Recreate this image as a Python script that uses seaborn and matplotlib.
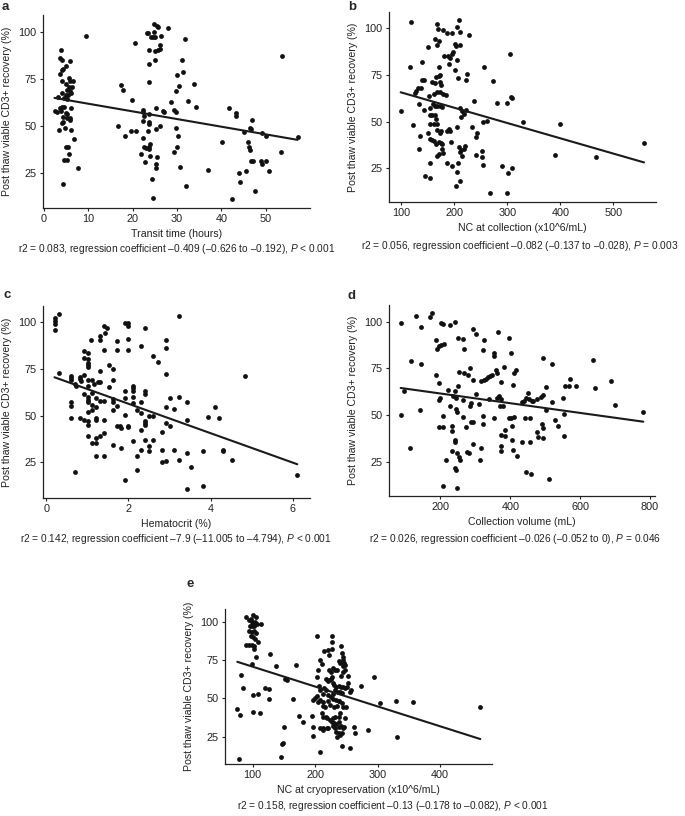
import matplotlib
matplotlib.use("Agg")
import matplotlib.pyplot as plt
import pandas as pd
import seaborn as sns

sns.set_theme(style="ticks")
plt.rcParams["font.family"] = ["Liberation Sans", "DejaVu Sans"]
plt.rcParams["mathtext.fontset"] = "custom"
plt.rcParams["mathtext.rm"] = "Liberation Sans"
plt.rcParams["mathtext.it"] = "Liberation Sans:italic"

W, H = 685, 816
INK = "#222222"
Y_LABEL = "Post thaw viable CD3+ recovery (%)"
Y_TICKS = [25, 50, 75, 100]

# panel a: transit time (hours) vs recovery (%)
transit_points = [
    (3.9, 90.8), (3.7, 86.5), (4.0, 85.1), (5.8, 84.7), (4.9, 81.9), (4.4, 80.6),
    (4.0, 79.7), (3.7, 77.6), (5.6, 75.6), (4.1, 74.0), (6.0, 74.3), (6.6, 73.8),
    (4.9, 72.5), (5.7, 71.1), (6.3, 71.1), (4.0, 67.5), (5.1, 69.0), (5.8, 68.6),
    (6.1, 67.5), (5.0, 66.3), (5.5, 66.3), (3.1, 65.4), (4.5, 65.0), (5.2, 64.3),
    (4.0, 60.0), (4.5, 60.3), (6.2, 59.4), (2.4, 57.8), (3.0, 57.7), (3.9, 58.2),
    (5.2, 56.4), (4.3, 55.0), (6.0, 54.3), (5.8, 53.2), (4.3, 52.3), (4.1, 51.4),
    (3.3, 48.0), (4.7, 48.7), (6.2, 47.8), (6.7, 43.3), (5.0, 38.8), (5.5, 38.8),
    (5.6, 35.2), (4.6, 31.8), (5.2, 31.8), (7.6, 27.7), (4.3, 19.1), (9.4, 98.2),
    (3.6, 59.5), (4.9, 57.1), (5.2, 54.5),
    (20.6, 94.4), (17.4, 72.0), (17.8, 69.5), (19.9, 64.1), (16.6, 50.1), (18.4, 44.7),
    (19.6, 47.4), (20.8, 47.1), (21.8, 35.2), (22.3, 43.8), (22.3, 58.6), (22.3, 57.7),
    (22.5, 55.5), (22.3, 52.8), (22.5, 39.0), (23.0, 38.5), (23.6, 37.6), (22.9, 30.7),
    (23.2, 99.5), (23.5, 99.5), (23.6, 90.5), (24.9, 104.3), (25.4, 103.6), (25.8, 103.0),
    (24.9, 100.0), (24.6, 97.3), (24.1, 97.3), (26.5, 98.2), (25.0, 97.3), (25.1, 90.0),
    (25.7, 90.8), (26.1, 93.2), (26.1, 91.4), (23.8, 83.3), (25.1, 85.5), (23.8, 73.4),
    (23.6, 56.4), (25.3, 59.6), (23.6, 52.3), (23.6, 51.0), (25.2, 48.3), (23.5, 47.4),
    (26.2, 49.8), (24.0, 40.2), (23.8, 38.8), (24.0, 34.0), (25.5, 33.4), (25.3, 29.8),
    (25.3, 27.7), (24.4, 21.9), (24.5, 11.7), (28.0, 102.2), (26.8, 57.8), (27.1, 57.3),
    (28.6, 62.7), (29.4, 58.6), (29.8, 57.3), (29.8, 68.6), (30.1, 77.0), (30.4, 71.6),
    (31.2, 85.1), (31.4, 78.8), (31.9, 96.4), (29.8, 48.7), (30.2, 44.4), (30.1, 39.0),
    (29.4, 36.1), (30.8, 28.2), (32.1, 17.8), (32.5, 63.2), (33.8, 72.5), (34.2, 60.0),
    (37.1, 26.3), (40.1, 41.7), (41.8, 59.4), (42.5, 10.8), (43.3, 56.8), (43.3, 55.1),
    (43.9, 25.0), (44.2, 20.3), (45.1, 46.9), (45.6, 25.9), (46.1, 41.5), (46.2, 38.8),
    (46.5, 37.0), (46.6, 31.3), (47.1, 31.3), (46.5, 49.2), (46.6, 48.3), (47.0, 53.3),
    (47.6, 15.5), (48.9, 31.3), (49.2, 29.5), (49.1, 46.3), (50.0, 44.9), (50.0, 31.3),
    (50.7, 25.7), (53.4, 36.1), (53.6, 87.3), (57.2, 44.2),
]

# panel b: NC at collection (x10^6/mL) vs recovery (%)
nc_collection_points = [
    (117.6, 103.2), (115.7, 79.3), (98.7, 55.4), (122.7, 48.0), (132.8, 35.5), (134.7, 42.0),
    (132.8, 59.3), (125.8, 65.4), (128.4, 66.4), (132.1, 68.2), (137.2, 68.2), (139.7, 82.0),
    (138.4, 72.5), (142.2, 72.1), (143.5, 56.1), (149.8, 90.0), (144.7, 20.9), (153.6, 19.5),
    (154.8, 27.9), (150.4, 43.6), (153.6, 40.7), (157.3, 40.0), (162.4, 39.6), (153.6, 53.4),
    (158.6, 53.4), (163.6, 53.4), (154.8, 48.6), (161.1, 48.6), (167.4, 48.6), (166.2, 51.6),
    (152.3, 63.6), (161.1, 64.6), (168.0, 65.9), (172.4, 65.9), (157.3, 71.1), (163.0, 70.7),
    (154.8, 57.5), (159.8, 59.3), (163.6, 58.2), (168.0, 58.2), (172.4, 58.6), (176.2, 57.9),
    (164.3, 94.1), (168.0, 102.5), (169.3, 99.5), (171.2, 93.0), (168.0, 90.9), (178.7, 98.9),
    (186.9, 97.5), (195.1, 97.5), (205.2, 100.7), (209.0, 104.3), (211.5, 98.2), (227.3, 96.4),
    (166.2, 73.9), (170.6, 74.3), (173.7, 74.8), (170.6, 79.3), (172.4, 71.2), (175.6, 69.5),
    (178.7, 65.0), (183.7, 64.1), (180.0, 85.0), (188.2, 85.4), (191.3, 84.3), (190.0, 81.1),
    (195.1, 86.4), (197.6, 87.3), (200.8, 91.4), (202.7, 90.5), (210.3, 90.9), (202.1, 77.5),
    (205.2, 83.2), (207.1, 73.2), (224.7, 75.4), (221.6, 72.5), (168.0, 45.4), (172.4, 43.6),
    (175.6, 44.8), (170.6, 39.1), (166.2, 38.2), (174.3, 38.6), (177.4, 37.9), (177.4, 35.5),
    (178.7, 32.9), (170.6, 32.3), (168.0, 31.6), (190.0, 46.2), (186.9, 45.0), (192.0, 45.0),
    (193.2, 39.1), (186.9, 27.9), (196.3, 26.1), (204.6, 22.7), (207.1, 27.9), (209.0, 36.4),
    (210.3, 33.7), (205.9, 47.1), (210.3, 18.0), (213.4, 34.6), (217.8, 35.5), (215.3, 31.6),
    (219.7, 37.0), (210.3, 57.0), (214.0, 55.5), (219.1, 54.3), (222.9, 56.1), (213.4, 52.5),
    (234.2, 46.8), (240.5, 41.8), (243.0, 44.1), (238.0, 60.9), (241.8, 32.0), (253.1, 34.3),
    (253.1, 31.1), (254.4, 26.6), (256.2, 79.3), (261.3, 50.4), (253.7, 49.5), (273.9, 72.0),
    (281.4, 60.2), (299.7, 60.0), (304.8, 86.4), (309.2, 62.7), (306.6, 62.9), (302.2, 22.1),
    (307.9, 25.2), (300.3, 11.8), (290.2, 26.1), (267.6, 11.4), (329.3, 49.8), (389.8, 32.1),
    (398.6, 48.9), (467.3, 31.1), (558.0, 38.7), (203.9, 15.5),
]

# panel c: hematocrit (%) vs recovery (%)
hematocrit_points = [
    (0.20, 102.5), (0.20, 100.7), (0.20, 98.9), (0.22, 95.9), (0.32, 104.3), (0.31, 73.0),
    (0.60, 71.2), (0.60, 70.0), (0.60, 69.1), (0.60, 57.5), (0.60, 55.2), (0.60, 48.6),
    (0.71, 66.8), (0.72, 65.9), (0.71, 19.5), (0.81, 70.9), (0.81, 69.5), (0.84, 68.6),
    (0.81, 48.6), (0.91, 84.6), (0.91, 80.7), (0.91, 71.8), (0.92, 61.6), (0.92, 47.7),
    (1.01, 83.8), (1.01, 80.2), (1.01, 78.4), (1.01, 77.1), (1.01, 75.9), (1.01, 69.1),
    (1.01, 65.9), (1.01, 59.8), (1.01, 58.4), (1.01, 57.1), (1.01, 51.8), (1.01, 46.8),
    (1.01, 45.0), (1.01, 38.8), (1.09, 90.5), (1.11, 69.1), (1.11, 62.3), (1.11, 55.7),
    (1.11, 53.0), (1.11, 35.2), (1.17, 66.8), (1.21, 59.6), (1.21, 54.5), (1.21, 48.6),
    (1.21, 47.7), (1.21, 37.9), (1.21, 35.2), (1.22, 28.0), (1.25, 68.2), (1.30, 68.2),
    (1.30, 74.1), (1.31, 90.5), (1.31, 92.7), (1.31, 58.0), (1.31, 39.1), (1.41, 98.0),
    (1.48, 97.1), (1.44, 94.5), (1.41, 85.2), (1.41, 58.0), (1.41, 47.7), (1.41, 40.5),
    (1.41, 28.0), (1.52, 77.1), (1.52, 65.5), (1.62, 74.8), (1.62, 69.1), (1.62, 58.8),
    (1.62, 57.1), (1.62, 53.0), (1.62, 34.3), (1.72, 90.0), (1.72, 85.2), (1.72, 55.2),
    (1.72, 44.6), (1.80, 44.1), (1.82, 43.2), (1.82, 32.5), (1.91, 99.8), (1.91, 63.2),
    (1.91, 59.3), (1.91, 50.4), (1.91, 15.5), (2.00, 99.5), (2.00, 98.2), (2.00, 91.1),
    (2.00, 85.2), (2.00, 44.5), (2.00, 43.6), (2.11, 65.9), (2.11, 64.6), (2.11, 62.9),
    (2.11, 60.2), (2.11, 56.6), (2.11, 36.1), (2.21, 53.0), (2.21, 28.0), (2.21, 20.5),
    (2.30, 87.3), (2.30, 57.1), (2.30, 51.2), (2.30, 42.0), (2.30, 31.6), (2.41, 97.1),
    (2.41, 62.9), (2.41, 61.6), (2.41, 46.8), (2.41, 45.9), (2.41, 45.0), (2.41, 37.0),
    (2.51, 49.8), (2.51, 33.4), (2.51, 30.7), (2.61, 82.0), (2.61, 50.0), (2.61, 36.6),
    (2.71, 78.9), (2.81, 41.4), (2.81, 31.6), (2.81, 25.0), (2.91, 90.5), (2.91, 86.4),
    (2.91, 72.1), (2.91, 54.8), (2.91, 45.9), (2.91, 25.4), (3.02, 59.3), (3.02, 44.5),
    (3.11, 53.4), (3.11, 31.3), (3.22, 103.2), (3.22, 59.8), (3.22, 25.9), (3.42, 57.1),
    (3.42, 47.7), (3.42, 29.8), (3.42, 10.7), (3.52, 22.1), (3.81, 30.7), (3.81, 12.0),
    (3.93, 49.1), (4.11, 54.8), (4.21, 48.9), (4.31, 31.6), (4.31, 31.2), (4.52, 26.3),
    (4.83, 71.4), (6.11, 17.9),
]

# panel d: collection volume (mL) vs recovery (%)
volume_points = [
    (86.3, 99.1), (86.3, 50.0), (95.9, 62.9), (113.1, 32.1), (115.0, 78.9), (129.3, 103.2),
    (143.6, 97.3), (143.6, 77.1), (140.7, 52.7), (171.3, 102.3), (177.1, 104.5), (188.5, 90.2),
    (191.4, 85.2), (195.2, 87.0), (202.9, 87.5), (209.6, 87.9), (188.5, 71.4), (195.2, 67.0),
    (198.1, 58.9), (196.2, 58.0), (195.2, 43.8), (201.0, 99.5), (207.6, 98.6), (207.7, 49.5),
    (207.7, 43.4), (207.7, 12.0), (216.3, 25.9), (222.0, 63.4), (226.8, 98.2), (228.8, 54.8),
    (233.5, 44.3), (233.5, 41.6), (233.5, 30.9), (236.4, 60.2), (241.2, 100.0), (241.2, 36.6),
    (243.1, 35.4), (241.2, 21.4), (245.0, 20.5), (243.1, 62.9), (246.0, 58.9), (246.0, 53.0),
    (247.9, 51.4), (249.8, 91.1), (249.8, 65.5), (247.9, 29.5), (252.6, 27.7), (257.4, 25.9),
    (247.9, 10.7), (254.5, 73.2), (264.1, 90.5), (264.1, 49.1), (265.1, 58.0), (268.9, 85.2),
    (268.9, 72.7), (273.7, 43.8), (276.5, 30.4), (281.3, 29.5), (280.4, 71.4), (284.2, 75.0),
    (284.2, 55.0), (289.0, 56.3), (289.0, 46.1), (293.8, 46.4), (293.8, 68.8), (293.8, 34.3),
    (294.7, 96.1), (301.4, 61.1), (301.4, 93.2), (311.0, 55.7), (313.8, 25.9), (315.6, 68.4),
    (325.2, 68.8), (331.8, 69.3), (336.6, 70.2), (343.3, 70.9), (348.1, 71.4), (317.5, 32.1),
    (322.3, 84.8), (322.3, 45.0), (322.3, 49.5), (325.2, 90.2), (338.5, 58.6), (352.9, 83.0),
    (352.9, 81.6), (353.8, 48.2), (360.5, 74.1), (362.4, 72.3), (362.4, 58.9), (365.4, 94.3),
    (368.2, 60.2), (372.0, 54.8), (373.0, 67.9), (374.9, 39.3), (374.9, 33.6), (374.9, 30.7),
    (374.9, 58.6), (379.6, 54.8), (382.5, 75.5), (384.4, 38.8), (386.3, 42.0), (396.8, 91.1),
    (401.6, 83.4), (395.9, 48.2), (403.5, 48.6), (410.2, 48.8), (405.4, 44.3), (406.4, 36.6),
    (408.3, 31.3), (408.3, 66.1), (410.2, 72.7), (415.9, 74.1), (420.7, 28.0), (432.2, 35.4),
    (434.1, 57.1), (439.8, 57.5), (444.6, 58.9), (443.6, 48.6), (444.6, 19.6), (458.9, 18.2),
    (451.3, 61.6), (454.1, 58.4), (456.1, 48.2), (456.1, 35.4), (460.8, 57.7), (465.6, 57.7),
    (475.2, 58.4), (477.1, 40.7), (479.9, 38.4), (487.6, 59.8), (492.4, 60.7), (489.5, 45.0),
    (492.4, 42.9), (494.3, 37.5), (492.4, 80.7), (500.9, 65.2), (500.9, 52.7), (511.5, 15.5),
    (518.1, 77.1), (518.1, 56.8), (527.7, 47.3), (537.3, 44.3), (549.7, 59.3), (553.5, 50.4),
    (553.5, 38.9), (556.4, 65.5), (567.8, 65.5), (570.7, 69.3), (587.9, 65.5), (637.6, 79.5),
    (642.3, 64.3), (688.2, 68.2), (699.7, 55.4), (780.9, 51.8),
]

# panel e: NC at cryopreservation (x10^6/mL) vs recovery (%)
nc_cryo_points = [
    (89.3, 103.3), (96.8, 102.2), (101.1, 104.4), (105.3, 103.3), (94.7, 101.1), (98.9, 100.0),
    (101.1, 98.9), (103.2, 100.2), (106.4, 98.9), (112.8, 98.9), (95.7, 97.6), (99.5, 97.2),
    (102.7, 97.6), (94.7, 94.3), (98.9, 93.7), (102.7, 94.3), (104.8, 92.8), (96.8, 90.6),
    (101.1, 89.9), (104.3, 89.1), (88.8, 85.1), (94.7, 84.9), (99.5, 85.1), (102.7, 84.0),
    (108.0, 86.7), (102.1, 82.3), (105.3, 77.0), (98.4, 72.7), (80.8, 65.5), (85.0, 56.7),
    (75.4, 43.1), (79.7, 39.2), (78.1, 10.6), (100.0, 52.3), (108.0, 52.8), (101.1, 41.4),
    (111.7, 40.3), (119.8, 56.7), (126.7, 56.0), (126.2, 49.5), (127.8, 79.0), (136.8, 71.4),
    (152.3, 62.8), (154.5, 62.2), (164.1, 49.5), (168.9, 71.6), (174.2, 38.6), (181.2, 34.8),
    (150.7, 31.6), (149.1, 21.1), (146.9, 20.0), (145.4, 11.9), (195.6, 38.6), (196.2, 31.6),
    (196.2, 25.6), (202.5, 90.6), (207.9, 15.1), (197.2, 49.0), (199.9, 50.6), (202.5, 51.7),
    (205.2, 68.7), (207.9, 74.9), (211.6, 72.7), (202.5, 63.9), (206.8, 58.2), (207.9, 55.6),
    (214.3, 56.7), (217.5, 55.6), (213.2, 53.0), (207.9, 49.0), (212.1, 47.9), (213.2, 45.1),
    (215.9, 44.2), (204.1, 47.9), (210.5, 40.3), (213.2, 38.1), (217.5, 38.1), (207.9, 30.5),
    (213.2, 30.9), (218.5, 30.9), (221.2, 30.5), (214.3, 80.8), (221.2, 81.4), (226.6, 91.0),
    (226.6, 86.7), (227.6, 82.3), (222.3, 78.6), (217.5, 62.6), (222.8, 62.2), (221.2, 61.1),
    (225.0, 62.6), (227.6, 63.9), (222.8, 68.7), (225.5, 67.6), (229.2, 69.8), (231.9, 68.3),
    (234.6, 68.7), (229.2, 60.0), (230.8, 58.9), (233.5, 57.8), (237.8, 58.2), (241.0, 57.8),
    (245.2, 57.4), (247.9, 56.7), (250.6, 57.4), (221.2, 52.3), (225.0, 51.2), (229.2, 53.0),
    (231.9, 55.6), (235.7, 54.5), (239.9, 53.9), (242.6, 53.4), (241.0, 84.0), (242.6, 79.7),
    (244.2, 77.0), (245.2, 75.3), (246.3, 73.1), (247.9, 72.0), (245.2, 70.9), (247.9, 68.7),
    (244.2, 67.0), (241.0, 64.4), (237.3, 74.2), (239.9, 73.5), (228.2, 49.5), (233.5, 49.0),
    (238.8, 48.6), (221.2, 48.0), (223.9, 45.8), (230.3, 44.7), (234.6, 45.1), (237.3, 48.4),
    (239.9, 40.3), (245.2, 44.2), (249.5, 44.2), (242.6, 47.3), (219.6, 37.0), (223.9, 35.9),
    (229.2, 37.0), (231.9, 38.1), (237.3, 38.1), (226.6, 34.8), (230.3, 34.2), (233.5, 33.3),
    (237.3, 34.6), (229.2, 32.0), (231.9, 30.5), (237.3, 31.1), (241.0, 32.0), (244.2, 30.5),
    (246.3, 31.1), (233.5, 28.3), (237.3, 27.2), (239.9, 26.1), (242.6, 27.6), (213.2, 29.4),
    (234.6, 25.0), (273.0, 58.2), (284.2, 29.4), (294.4, 63.9), (302.9, 46.9), (329.6, 48.0),
    (330.7, 24.5), (261.3, 31.1), (263.9, 27.6), (255.9, 53.9), (257.5, 55.2), (252.2, 64.4),
    (251.7, 60.0), (242.6, 18.9), (254.9, 17.3), (247.9, 37.0), (356.3, 47.5), (464.1, 44.2),
]

REGRESSION = {
    "a": (-0.409, 66.0),
    "b": (-0.082, 73.8),
    "c": (-7.9, 72.1),
    "d": (-0.026, 66.7),
    "e": (-0.13, 83.75),
}

# one entry per panel: letter, points, x label, caption, x ticks, x range, y range,
# and the axes box in pixels (left, top, right, bottom)
PANELS = [
    ("a", transit_points, "Transit time (hours)",
     "r2 = 0.083, regression coefficient \u20130.409 (\u20130.626 to \u20130.192), $\\mathit{P}$ < 0.001",
     [0, 10, 20, 30, 40, 50], (-0.2, 60), (6.2, 109.3), (43, 15, 310, 208)),
    ("b", nc_collection_points, "NC at collection (x10^6/mL)",
     "r2 = 0.056, regression coefficient \u20130.082 (\u20130.137 to \u20130.028), $\\mathit{P}$ = 0.003",
     [100, 200, 300, 400, 500], (76.7, 580.6), (6.8, 108.8), (389, 12, 656, 202)),
    ("c", hematocrit_points, "Hematocrit (%)",
     "r2 = 0.142, regression coefficient \u20137.9 (\u201311.005 to \u20134.794), $\\mathit{P}$ < 0.001",
     [0, 2, 4, 6], (-0.08, 6.42), (5.7, 108.8), (43, 306, 310, 498)),
    ("d", volume_points, "Collection volume (mL)",
     "r2 = 0.026, regression coefficient \u20130.026 (\u20130.052 to 0), $\\mathit{P}$ = 0.046",
     [200, 400, 600, 800], (52.9, 814.3), (6.6, 108.9), (389, 305, 655, 496)),
    ("e", nc_cryo_points, "NC at cryopreservation (x10^6/mL)",
     "r2 = 0.158, regression coefficient \u20130.13 (\u20130.178 to \u20130.082), $\\mathit{P}$ < 0.001",
     [100, 200, 300, 400], (55.7, 482.8), (7.1, 108.5), (225, 609, 492, 764)),
]

# where the panel letters and captions sit (pixels)
LETTER_POS = {"a": (2, 10), "b": (348, 10), "c": (3, 298), "d": (348, 299), "e": (187, 587)}
CAPTION_POS = {"a": (177, 249), "b": (520, 246), "c": (176, 539), "d": (515, 539), "e": (393, 806)}


def draw_panel(fig, letter, points, xlabel, caption, xticks, xlim, ylim, box):
    left, top, right, bottom = box
    ax = fig.add_axes([left / W, 1 - bottom / H, (right - left) / W, (bottom - top) / H])
    df = pd.DataFrame(points, columns=["x", "y"])
    sns.scatterplot(data=df, x="x", y="y", ax=ax, s=12, color="#111111", linewidth=0)

    slope, intercept = REGRESSION[letter]
    fit = pd.DataFrame({"x": [df["x"].min(), df["x"].max()]})
    fit["y"] = intercept + slope * fit["x"]
    sns.lineplot(data=fit, x="x", y="y", ax=ax, color="#1a1a1a", linewidth=1.5)

    ax.set_xlim(*xlim)
    ax.set_ylim(*ylim)
    ax.set_xticks(xticks)
    ax.set_yticks(Y_TICKS)
    ax.set_xlabel(xlabel, fontsize=7.6, color=INK, labelpad=3.5)
    ax.set_ylabel(Y_LABEL, fontsize=7.6, color=INK, labelpad=4.5)
    ax.tick_params(labelsize=7.8, length=2.5, width=0.8, pad=2, colors=INK)
    sns.despine(ax=ax)
    for side in ["left", "bottom"]:
        ax.spines[side].set_linewidth(0.9)
        ax.spines[side].set_color(INK)

    lx, ly = LETTER_POS[letter]
    fig.text(lx / W, 1 - ly / H, letter, fontsize=9.5, fontweight="bold", va="baseline", ha="left")
    cx, cy = CAPTION_POS[letter]
    fig.text(cx / W, 1 - cy / H, caption, fontsize=7.3, color=INK, ha="center", va="center")


def main():
    fig = plt.figure(figsize=(W / 100, H / 100), dpi=100)
    for letter, points, xlabel, caption, xticks, xlim, ylim, box in PANELS:
        draw_panel(fig, letter, points, xlabel, caption, xticks, xlim, ylim, box)
    fig.savefig("out.png", dpi=100, facecolor="white")
    plt.close(fig)


if __name__ == "__main__":
    main()
